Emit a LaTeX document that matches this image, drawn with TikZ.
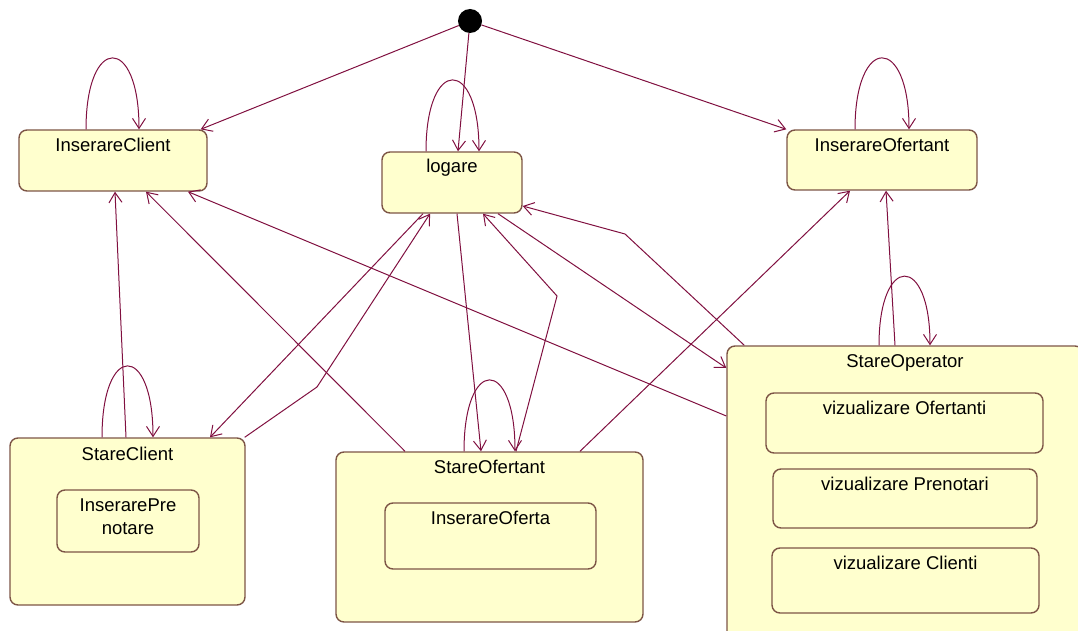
\documentclass[tikz,border=0pt]{standalone}
\usepackage{fontspec}
\setmainfont{Liberation Sans}
\usetikzlibrary{arrows.meta}
\definecolor{galbenstare}{RGB}{255,255,206}
\definecolor{marobord}{RGB}{125,85,70}
\definecolor{maroline}{RGB}{128,16,64}

\begin{document}
\begin{tikzpicture}[x=1pt, y=-1pt, >={Straight Barb[length=10pt,width=13pt]},
    stare/.style={draw=marobord, fill=galbenstare, line width=1.4pt, rounded corners=8pt, inner sep=0pt},
    titlu/.style={anchor=base, inner sep=0pt, font=\fontsize{18.5}{23}\selectfont, align=center},
    tranz/.style={->, draw=maroline, line width=1pt}]
    \useasboundingbox (0,0) rectangle (1078,631);
    \clip (0,0) rectangle (1078,631);
    % starea initiala
    \node[circle, fill=black, minimum size=24pt, inner sep=0pt] (start) at (470,21) {};
    % stari simple
    \node[stare, minimum width=188pt, minimum height=61pt] (insclient) at (113,160.5) {};
    \node[stare, minimum width=140pt, minimum height=61pt] (logare) at (452,182.5) {};
    \node[stare, minimum width=190pt, minimum height=60pt] (insofer) at (882,160) {};
    \node[titlu] (tinsclient) at ([yshift=-22pt]insclient.north) {InserareClient};
    \node[titlu] (tlogare) at ([yshift=-21pt]logare.north) {logare};
    \node[titlu] (tinsofer) at ([yshift=-22pt]insofer.north) {InserareOfertant};
    % stari compuse
    \node[stare, minimum width=235pt, minimum height=167pt] (stclient) at (127.5,521.5) {};
    \node[titlu] (tstclient) at ([yshift=-23pt]stclient.north) {StareClient};
    \node[stare, minimum width=142pt, minimum height=62pt] (insprenot) at (128,521) {};
    \node[titlu] (tinsprenot) at ([yshift=-45pt]insprenot.north) {InserarePre\\notare};
    \node[stare, minimum width=307pt, minimum height=170pt] (stofer) at (489.5,537) {};
    \node[titlu] (tstofer) at ([yshift=-22pt]stofer.north) {StareOfertant};
    \node[stare, minimum width=211pt, minimum height=66pt] (insoferta) at (490.5,536) {};
    \node[titlu] (tinsoferta) at ([yshift=-22pt]insoferta.north) {InserareOferta};
    \node[stare, minimum width=356pt, minimum height=304pt] (stoper) at (905,498) {};
    \node[titlu] (tstoper) at ([yshift=-22pt]stoper.north) {StareOperator};
    \node[stare, minimum width=277pt, minimum height=60pt] (vizofer) at (904.5,423) {};
    \node[titlu] (tvizofer) at ([yshift=-22pt]vizofer.north) {vizualizare Ofertanti};
    \node[stare, minimum width=264pt, minimum height=59pt] (vizpren) at (905,498.5) {};
    \node[titlu] (tvizpren) at ([yshift=-22pt]vizpren.north) {vizualizare Prenotari};
    \node[stare, minimum width=267pt, minimum height=65pt] (vizcli) at (905.5,580.5) {};
    \node[titlu] (tvizcli) at ([yshift=-22pt]vizcli.north) {vizualizare Clienti};
    % puncte de frangere
    \coordinate (cot1) at (317,387);
    \coordinate (cot2) at (557,296);
    \coordinate (cot3) at (625,234);
    % tranzitii din starea initiala
    \draw[tranz] (start) -- ([xshift=-7pt]insclient.north east);
    \draw[tranz] (start) -- ([xshift=6pt]logare.north);
    \draw[tranz] (start) -- (insofer.north west);
    % bucle
    \draw[tranz] ([xshift=-27pt]insclient.north) .. controls +(0pt,95pt) and +(0pt,95pt) .. ([xshift=26pt]insclient.north);
    \draw[tranz] ([xshift=-26pt]logare.north) .. controls +(0pt,95pt) and +(0pt,95pt) .. ([xshift=27pt]logare.north);
    \draw[tranz] ([xshift=-27pt]insofer.north) .. controls +(0pt,95pt) and +(0pt,95pt) .. ([xshift=27pt]insofer.north);
    \draw[tranz] ([xshift=-25.5pt]stclient.north) .. controls +(0pt,95pt) and +(0pt,95pt) .. ([xshift=25.5pt]stclient.north);
    \draw[tranz] ([xshift=-25.5pt]stofer.north) .. controls +(0pt,95pt) and +(0pt,95pt) .. ([xshift=25.5pt]stofer.north);
    \draw[tranz] ([xshift=-26pt]stoper.north) .. controls +(0pt,92pt) and +(0pt,92pt) .. ([xshift=25pt]stoper.north);
    % spre InserareClient
    \draw[tranz] ([xshift=-1.5pt]stclient.north) -- ([xshift=2pt]insclient.south);
    \draw[tranz] ([xshift=-84.5pt]stofer.north) -- ([xshift=33pt]insclient.south);
    \draw[tranz] ([yshift=82pt]stoper.west) -- ([xshift=75pt]insclient.south);
    % logare si starile compuse
    \draw[tranz] ([xshift=-29pt]logare.south) -- ([xshift=82.5pt]stclient.north);
    \draw[tranz] ([xshift=-1pt]stclient.north east) -- (cot1) -- ([xshift=-22pt]logare.south);
    \draw[tranz] ([xshift=5pt]logare.south) -- ([xshift=-8.5pt]stofer.north);
    \draw[tranz] ([xshift=26.5pt]stofer.north) -- (cot2) -- ([xshift=31pt]logare.south);
    \draw[tranz] ([xshift=46pt]logare.south) -- ([yshift=130pt]stoper.west);
    \draw[tranz] ([xshift=18pt]stoper.north west) -- (cot3) -- ([yshift=-23.5pt]logare.east);
    % spre InserareOfertant
    \draw[tranz] ([xshift=90.5pt]stofer.north) -- ([xshift=-32pt]insofer.south);
    \draw[tranz] ([xshift=-10pt]stoper.north) -- ([xshift=4pt]insofer.south);
\end{tikzpicture}
\end{document}
